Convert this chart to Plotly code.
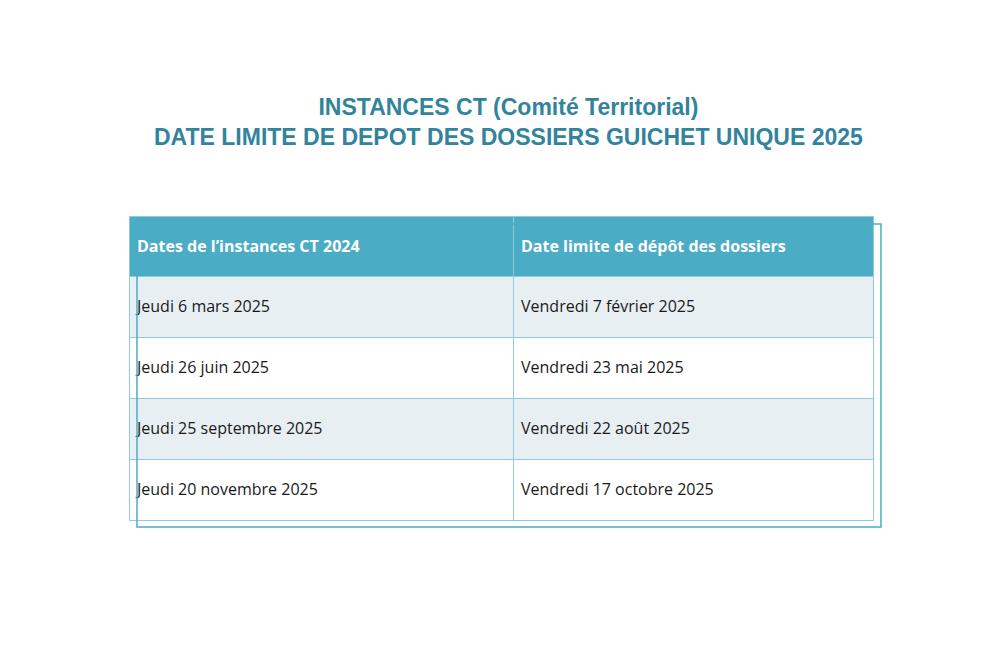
import plotly.graph_objects as go

# contenu du tableau
entetes = ["Dates de l\u2019instances CT 2024", "Date limite de dépôt des dossiers"]
dates_ct = ["Jeudi 6 mars 2025", "Jeudi 26 juin 2025", "Jeudi 25 septembre 2025", "Jeudi 20 novembre 2025"]
dates_depot = ["Vendredi 7 février 2025", "Vendredi 23 mai 2025", "Vendredi 22 août 2025", "Vendredi 17 octobre 2025"]
titre1 = "INSTANCES CT (Comité Territorial)"
titre2 = "DATE LIMITE DE DEPOT DES DOSSIERS GUICHET UNIQUE 2025"

fonds = ["#E8EFF3", "#FFFFFF", "#E8EFF3", "#FFFFFF"]

# petite ligne vide pour centrer verticalement le texte
pad = "<span style='font-size:7px'> </span><br>"

fig = go.Figure(go.Table(
    domain={'x': [0.121, 0.865], 'y': [0, 1 - 208 / 667]},
    columnwidth=[384, 360],
    header=dict(values=[pad + "<b>%s</b>" % h for h in entetes],
                fill_color="#4BACC6", line_color="#8FCBDD", line_width=1,
                align="left", height=60,
                font=dict(family="Open Sans", size=16, color="white")),
    cells=dict(values=[[pad + d for d in dates_ct], [pad + d for d in dates_depot]],
               fill_color=[fonds, fonds], line_color="#8FCBDD", line_width=1,
               align="left", height=61,
               font=dict(family="Open Sans", size=16, color="#1a1a1a"))))

# cadre extérieur
fig.add_shape(type="rect", xref="paper", yref="paper",
              x0=0.129, x1=0.873, y0=1 - 519 / 667, y1=1 - 216 / 667,
              line=dict(color="#4BACC6", width=1.5))

fig.add_annotation(text="<b>%s<br>%s</b>" % (titre1, titre2), xref="paper", yref="paper",
                   x=0.5, y=1 - 114 / 667, yanchor="middle", showarrow=False,
                   font=dict(family="Liberation Sans", size=23, color="#31849B"))

fig.update_layout(width=1000, height=667, margin={'l': 0, 'r': 0, 't': 0, 'b': 0},
                  paper_bgcolor="white", plot_bgcolor="white")
fig.write_html("out.html")
